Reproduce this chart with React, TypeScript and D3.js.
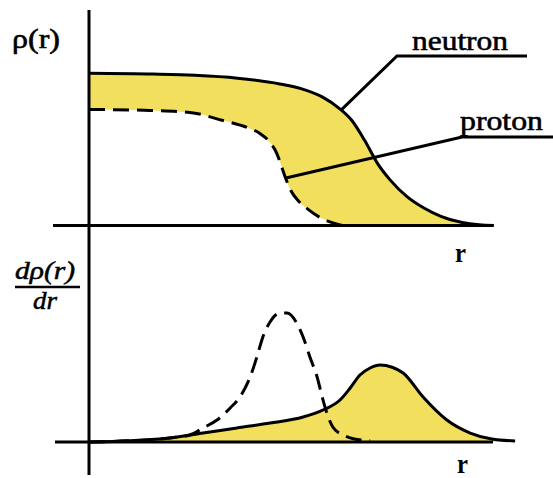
import React from "react";
import * as d3 from "d3";

// Radial density of a neutron-rich nucleus: neutron (solid) vs proton (dashed)
const neutronR = [0, 1.5, 2.5, 3.5, 4.5, 5.0, 5.5, 5.9, 6.2, 6.5, 6.8, 7.1, 7.5, 7.9, 8.3, 8.8, 9.2, 9.55];
const neutronRho = [1.0, 0.995, 0.987, 0.968, 0.93, 0.9, 0.845, 0.77, 0.69, 0.56, 0.41, 0.3, 0.19, 0.115, 0.06, 0.02, 0.005, 0];

const protonR = [0, 1.44, 2.38, 3.16, 3.73, 4.03, 4.27, 4.43, 4.55, 4.64, 4.76, 4.93, 5.16, 5.45, 5.7, 5.9, 6.05];
const protonRho = [0.763, 0.756, 0.743, 0.69, 0.644, 0.605, 0.546, 0.473, 0.381, 0.309, 0.23, 0.164, 0.108, 0.053, 0.022, 0.005, 0];

// Derivative dρ/dr (magnitude) for both distributions
const dNeutronR = [0, 0.97, 1.91, 2.69, 3.49, 4.27, 5.05, 5.52, 5.92, 6.16, 6.39, 6.63, 6.86, 7.15, 7.41, 7.88, 8.44, 8.99, 9.5, 10.05];
const dNeutronVal = [0, 0.01, 0.031, 0.069, 0.108, 0.146, 0.192, 0.246, 0.323, 0.415, 0.515, 0.569, 0.592, 0.575, 0.531, 0.346, 0.169, 0.069, 0.023, 0.008];

const dProtonR = [0, 1.0, 2.0, 2.38, 2.69, 3.02, 3.33, 3.56, 3.8, 3.96, 4.1, 4.27, 4.5, 4.67, 4.9, 5.05, 5.21, 5.38, 5.5, 5.61, 5.75, 5.99, 6.23, 6.63];
const dProtonVal = [0, 0.01, 0.035, 0.054, 0.108, 0.169, 0.262, 0.346, 0.5, 0.654, 0.808, 0.923, 0.992, 0.992, 0.915, 0.808, 0.654, 0.5, 0.346, 0.223, 0.115, 0.054, 0.025, 0.01];

// Leader-line anchors on the top curves (data units)
const neutronAnchor = { r: 5.95, rho: 0.76 };
const protonAnchor = { r: 4.62, rho: 0.31 };

const seriesLabels = ["neutron", "proton"];
const axisLabel = "r";

type Pt = [number, number];
const zip = (a: number[], b: number[]): Pt[] => a.map((v, i) => [v, b[i]]);

const W = 553;
const H = 478;
const YELLOW = "#F1DF5D";
const SERIF = "'Liberation Serif', 'DejaVu Serif', serif";

export default function App() {
  const x = d3.scaleLinear().domain([0, 10]).range([89, 513]);
  const yTop = d3.scaleLinear().domain([0, 1.4]).range([225.5, 12.5]);
  const yBot = d3.scaleLinear().domain([0, 1.4]).range([442, 260]);

  const neutron = zip(neutronR, neutronRho);
  const proton = zip(protonR, protonRho);
  const dNeutron = zip(dNeutronR, dNeutronVal);
  const dProton = zip(dProtonR, dProtonVal);

  const lineTop = d3
    .line<Pt>()
    .x((d) => x(d[0]))
    .y((d) => yTop(d[1]))
    .curve(d3.curveMonotoneX);
  const areaTop = d3
    .area<Pt>()
    .x((d) => x(d[0]))
    .y0(yTop(0))
    .y1((d) => yTop(d[1]))
    .curve(d3.curveMonotoneX);
  const lineBot = d3
    .line<Pt>()
    .x((d) => x(d[0]))
    .y((d) => yBot(d[1]))
    .curve(d3.curveMonotoneX);
  const areaBot = d3
    .area<Pt>()
    .x((d) => x(d[0]))
    .y0(yBot(0))
    .y1((d) => yBot(d[1]))
    .curve(d3.curveMonotoneX);

  const nA: Pt = [x(neutronAnchor.r), yTop(neutronAnchor.rho)];
  const pA: Pt = [x(protonAnchor.r), yTop(protonAnchor.rho)];

  const sw = 3;
  const dash = "16,8";

  return (
    <svg
      width={W}
      height={H}
      style={{ position: "absolute", left: 0, top: 0, background: "#fff" }}
      fontFamily={SERIF}
    >
      <defs>
        <mask id="skin">
          <rect x={0} y={0} width={W} height={H} fill="#fff" />
          <path d={areaTop(proton) || ""} fill="#000" />
        </mask>
      </defs>

      {/* neutron skin band: neutron density minus proton density */}
      <path d={areaTop(neutron) || ""} fill={YELLOW} mask="url(#skin)" />
      {/* derivative of neutron density */}
      <path d={areaBot(dNeutron) || ""} fill={YELLOW} />

      {/* axes */}
      <line x1={89} x2={89} y1={10} y2={475} stroke="#000" strokeWidth={sw} />
      <line x1={53} x2={493} y1={yTop(0)} y2={yTop(0)} stroke="#000" strokeWidth={sw} />
      <line x1={55} x2={493} y1={yBot(0)} y2={yBot(0)} stroke="#000" strokeWidth={sw} />

      {/* curves */}
      <path d={lineTop(neutron) || ""} fill="none" stroke="#000" strokeWidth={sw} />
      <path d={lineTop(proton) || ""} fill="none" stroke="#000" strokeWidth={sw} strokeDasharray={dash} />
      <path d={lineBot(dNeutron) || ""} fill="none" stroke="#000" strokeWidth={sw} />
      <path d={lineBot(dProton) || ""} fill="none" stroke="#000" strokeWidth={sw} strokeDasharray={dash} />

      {/* leader lines */}
      <polyline points={`${nA[0]},${nA[1]} 397,56 527,56`} fill="none" stroke="#000" strokeWidth={sw} />
      <polyline points={`${pA[0]},${pA[1]} 462,137 553,137`} fill="none" stroke="#000" strokeWidth={sw} />

      {/* labels */}
      <g stroke="#000" strokeWidth={0.6}>
        <text x={412} y={50} fontSize={28} textLength={96} lengthAdjust="spacingAndGlyphs">
          {seriesLabels[0]}
        </text>
        <text x={460} y={130} fontSize={28} textLength={83} lengthAdjust="spacingAndGlyphs">
          {seriesLabels[1]}
        </text>
        <text x={12} y={48} fontSize={28} textLength={48} lengthAdjust="spacingAndGlyphs">
          ρ(r)
        </text>
      </g>
      <text x={455} y={262} fontSize={28} fontWeight="bold" textLength={11} lengthAdjust="spacingAndGlyphs">
        {axisLabel}
      </text>
      <text x={457} y={473} fontSize={28} fontWeight="bold" textLength={11} lengthAdjust="spacingAndGlyphs">
        {axisLabel}
      </text>

      {/* dρ(r)/dr */}
      <g stroke="#000" strokeWidth={0.5}>
        <text x={15} y={279} fontSize={25} fontStyle="italic" textLength={60} lengthAdjust="spacingAndGlyphs">
          dρ(r)
        </text>
        <text x={33} y={309} fontSize={25} fontStyle="italic" textLength={24} lengthAdjust="spacingAndGlyphs">
          dr
        </text>
      </g>
      <line x1={15} x2={80} y1={287} y2={287} stroke="#000" strokeWidth={2.6} />
    </svg>
  );
}
